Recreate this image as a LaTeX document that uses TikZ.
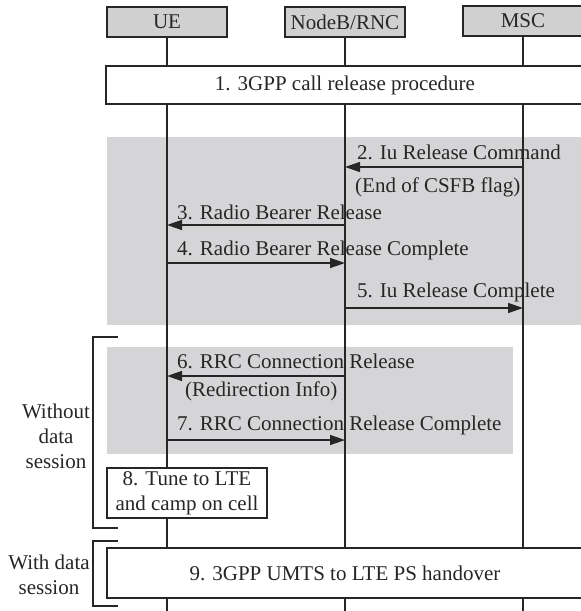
\documentclass[tikz,border=0pt]{standalone}
\usepackage{fontspec}
\setmainfont{Liberation Serif}
\usetikzlibrary{arrows.meta}
\definecolor{ink}{RGB}{38,38,38}
\definecolor{headfill}{RGB}{208,208,208}
\definecolor{zonefill}{RGB}{213,213,215}
\begin{document}
\begin{tikzpicture}[x=1pt,y=-1pt,
  font=\fontsize{21}{25}\selectfont,
  every node/.style={text=ink},
  entity/.style={draw=ink, fill=headfill, line width=1.4pt,
    minimum width=120pt, minimum height=30pt, inner sep=0pt},
  procbox/.style={draw=ink, fill=white, line width=1.4pt, inner sep=0pt, align=center},
  zone/.style={fill=zonefill},
  life/.style={draw=ink, line width=1.4pt},
  msg/.style={draw=ink, line width=1.4pt, -{Triangle[length=15pt,width=10pt]}},
  lbl/.style={anchor=base west, inner sep=0pt},
  brace/.style={draw=ink, line width=1.4pt},
  side/.style={align=center, inner sep=0pt}]
\useasboundingbox (0,0) rectangle (581,611);
\clip (0,0) rectangle (581,611);

% shaded phases
\fill[zone] (107,137) rectangle (590,325);
\fill[zone] (107,347) rectangle (513,454);

% entities and lifelines
\node[entity] (UE)  at (167,22) {UE};
\node[entity] (RNC) at (345,22) {NodeB/RNC};
\node[entity] (MSC) at (523,21) {MSC};
\coordinate (UEend)  at (167,620);
\coordinate (RNCend) at (345,620);
\coordinate (MSCend) at (523,620);
\draw[life] (UE.south)  -- (UEend);
\draw[life] (RNC.south) -- (RNCend);
\draw[life] (MSC.south) -- (MSCend);

% procedure boxes
\node[procbox, minimum width=478pt, minimum height=38pt] (rel) at (345,85)
  {1. 3GPP call release procedure};
\node[procbox, minimum width=160pt, minimum height=50pt] (tune) at (187,493)
  {8. Tune to LTE\\and camp on cell};
\node[procbox, minimum width=476pt, minimum height=50pt] (ho) at (345,573)
  {9. 3GPP UMTS to LTE PS handover};

% message end points on the lifelines
\coordinate (m2a) at (MSC |- 0,167);  \coordinate (m2b) at (RNC |- 0,167);
\coordinate (m3a) at (RNC |- 0,225);  \coordinate (m3b) at (UE |- 0,225);
\coordinate (m4a) at (UE |- 0,263);   \coordinate (m4b) at (RNC |- 0,263);
\coordinate (m5a) at (RNC |- 0,308);  \coordinate (m5b) at (MSC |- 0,308);
\coordinate (m6a) at (RNC |- 0,376);  \coordinate (m6b) at (UE |- 0,376);
\coordinate (m7a) at (UE |- 0,440);   \coordinate (m7b) at (RNC |- 0,440);

\draw[msg] (m2a) -- (m2b);
\draw[msg] (m3a) -- (m3b);
\draw[msg] (m4a) -- (m4b);
\draw[msg] (m5a) -- (m5b);
\draw[msg] (m6a) -- (m6b);
\draw[msg] (m7a) -- (m7b);

% message labels
\node[lbl] (l2)  at (357,159) {2. Iu Release Command};
\node[lbl] (l2b) at (355,192) {(End of CSFB flag)};
\node[lbl] (l3)  at (177,219) {3. Radio Bearer Release};
\node[lbl] (l4)  at (177,255) {4. Radio Bearer Release Complete};
\node[lbl] (l5)  at (357,297) {5. Iu Release Complete};
\node[lbl] (l6)  at (177,368) {6. RRC Connection Release};
\node[lbl] (l6b) at (185,396) {(Redirection Info)};
\node[lbl] (l7)  at (177,430) {7. RRC Connection Release Complete};

% case brackets
\draw[brace] (118,337) -- (93,337) -- (93,528) -- (118,528);
\draw[brace] (118,541) -- (93,541) -- (93,606) -- (118,606);
\node[side] (without) at (56,436.5) {Without\\data\\session};
\node[side] (with) at (49,574.5) {With data\\session};
\end{tikzpicture}
\end{document}
